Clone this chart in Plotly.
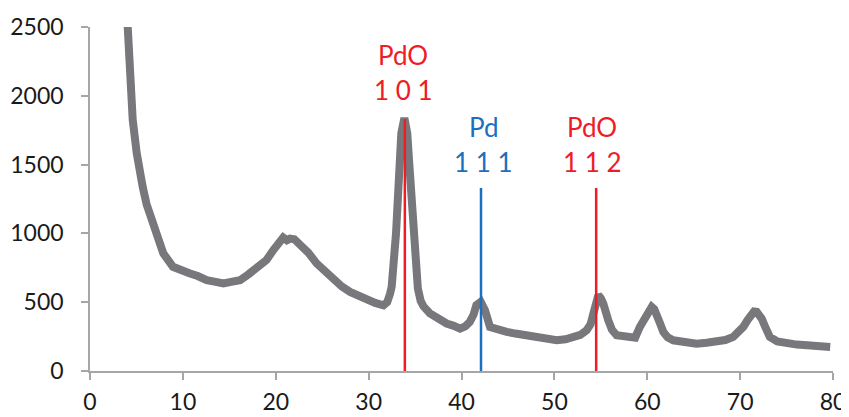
import plotly.graph_objects as go

# XRD pattern
two_theta = [3.9, 4.02, 4.2, 4.38, 4.6, 5.03, 5.3, 5.67, 6.1, 6.64, 7.2, 7.89, 8.94,
             9.8, 10.77, 11.6, 12.56, 13.4, 14.36, 15.2, 16.15, 17.0, 17.95, 19.0, 19.74, 20.46,
             20.8, 21.2, 21.53, 22.0, 22.6, 23.5, 24.4, 25.3, 26.2, 27.1, 28.0, 28.9, 29.8, 30.7,
             31.6, 32.0, 32.3, 32.48, 32.95, 33.3, 33.52, 33.85, 34.16, 34.4, 34.8, 35.3, 35.6, 35.9,
             36.6, 37.5, 38.4, 39.1, 39.84, 40.4, 40.9, 41.3, 41.6, 42.07, 42.53, 43.07, 43.9,
             44.87, 45.8, 46.65, 47.5, 48.45, 49.3, 50.25, 51.2, 52.04, 52.8, 53.48, 53.9, 54.2,
             54.5, 54.73, 55.0, 55.27, 55.8, 56.2, 56.7, 57.4, 58.14, 58.7, 59.2, 59.6, 59.94,
             60.2, 60.48, 60.75, 61.0, 61.35, 61.73, 62.2, 62.8, 64.0, 65.3, 66.4, 67.5, 68.4,
             69.26, 69.8, 70.34, 70.8, 71.24, 71.5, 71.78, 72.05, 72.32, 72.7, 73.2, 74.0, 75.0,
             76.1, 77.2, 78.4, 79.7]
intensity = [2700, 2505, 2311, 2068, 1825, 1583, 1460, 1340, 1210, 1097, 970, 855, 757,
             730, 709, 690, 660, 650, 636, 648, 660, 700, 757, 806, 879, 955,
             970, 950, 962, 958, 925, 860, 782, 720, 660, 615, 575, 545, 515, 495,
             478, 500, 560, 611, 1000, 1485, 1728, 1838, 1728, 1485, 1000, 600, 510, 470,
             418, 375, 345, 330, 308, 325, 357, 410, 478, 502, 442, 320, 300,
             284, 272, 260, 250, 236, 232, 223, 230, 248, 262, 296, 340, 418,
             500, 551, 530, 490, 369, 300, 260, 250, 236, 242, 320, 370, 418,
             450, 466, 450, 418, 350, 284, 245, 223, 210, 199, 205, 211, 225,
             248, 280, 320, 370, 418, 432, 430, 410, 381, 320, 248, 215, 199,
             192, 187, 182, 175]

# reference reflections
ref_pos = [33.9, 42.1, 54.5]
ref_height = [1830, 1330, 1330]
ref_colors = ["#ee1c25", "#1b6fbd", "#ee1c25"]
ref_phase = ["PdO", "Pd", "PdO"]
ref_hkl = ["1 0 1", "1 1 1", "1 1 2"]
label_x = [33.75, 42.35, 54.1]
label_top = [2298, 1774, 1774]
label_bottom = [2043, 1519, 1519]

x_ticks = [0, 10, 20, 30, 40, 50, 60, 70, 80]
y_ticks = [0, 500, 1000, 1500, 2000, 2500]

fig = go.Figure()
fig.add_trace(go.Scatter(x=two_theta, y=intensity, mode="lines",
                         line=dict(color="#78787c", width=8),
                         showlegend=False, hoverinfo="skip"))
for p, h, c in zip(ref_pos, ref_height, ref_colors):
    fig.add_trace(go.Scatter(x=[p, p], y=[0, h], mode="lines",
                             line=dict(color=c, width=2.5), showlegend=False))

font_fam = "Lato, 'Open Sans', sans-serif"
for lx, t1, t2, ph, hkl, c in zip(label_x, label_top, label_bottom, ref_phase, ref_hkl, ref_colors):
    fig.add_annotation(x=lx, y=t1, text=ph, showarrow=False, xanchor="center", yanchor="middle",
                       font=dict(family=font_fam, size=26, color=c))
    fig.add_annotation(x=lx, y=t2, text=hkl, showarrow=False, xanchor="center", yanchor="middle",
                       font=dict(family=font_fam, size=26, color=c))

axis_common = dict(showgrid=False, zeroline=False, showline=True, linecolor="#a6a6a6", linewidth=1.5,
                   ticks="outside", tickcolor="#a6a6a6", ticklen=7, tickwidth=1.5, automargin=False,
                   tickfont=dict(family=font_fam, size=23, color="#1a1a1a"))
fig.update_xaxes(range=[0, 80], tickvals=x_ticks, ticktext=[str(v) for v in x_ticks],
                 ticklabelstandoff=3, **axis_common)
fig.update_yaxes(range=[0, 2500], tickvals=y_ticks, ticktext=[str(v) for v in y_ticks],
                 ticklabelstandoff=13, **axis_common)

fig.update_layout(width=841, height=409, margin=dict(l=82, r=16, t=19, b=46),
                  plot_bgcolor="white", paper_bgcolor="white", showlegend=False)
fig.write_html("out.html")
